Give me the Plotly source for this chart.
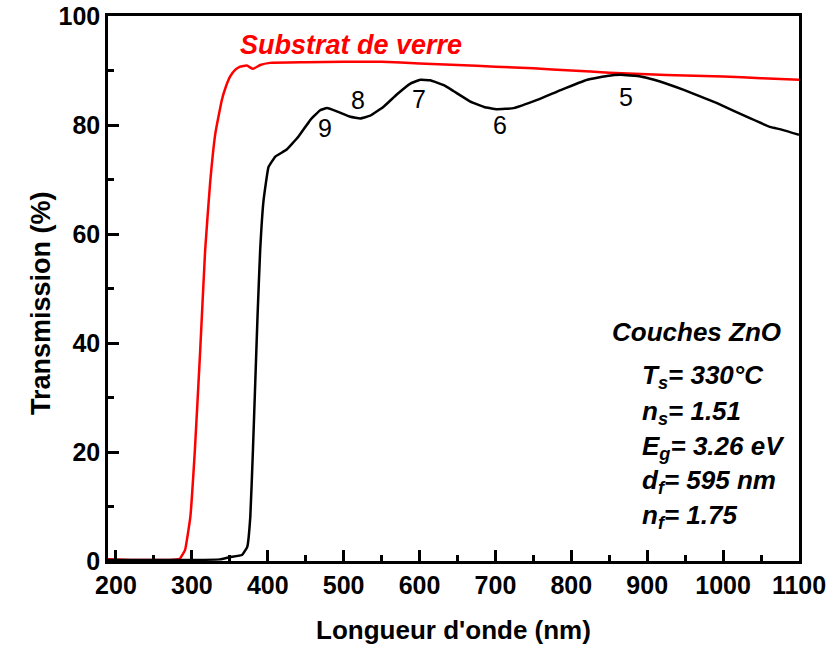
import plotly.graph_objects as go

# Glass substrate transmission (red)
red_wl = [189.5, 220, 250, 270, 284, 291, 298, 304, 311, 317.5, 324, 331, 339.5, 344, 350.5, 357, 363.5,
          372.5, 380.5, 390, 403, 450, 500, 550, 600, 650, 700, 750, 800, 850, 900, 950, 1000, 1050, 1100]
red_T = [0.3, 0.2, 0.2, 0.2, 0.4, 2.0, 8.1, 20.4, 38.7, 57.0, 69.3, 78.5, 84.6, 86.7, 88.9, 90.1, 90.7,
         90.9, 90.3, 91.0, 91.4, 91.5, 91.6, 91.6, 91.3, 91.0, 90.7, 90.4, 90.0, 89.6, 89.3, 89.1, 88.9, 88.6, 88.3]

# ZnO film transmission (black)
blk_wl = [189.5, 250, 300, 337, 350, 366, 373, 377, 380.5, 383.5, 386.5, 390, 394.5, 401, 410, 425, 440,
          456, 469, 478, 491, 509, 522, 535, 553, 570, 588, 601, 614, 632, 645, 667, 685, 702, 724, 755,
          786, 821, 847, 865, 891, 909, 949, 992, 1036, 1063, 1076, 1100]
blk_T = [0.2, 0.2, 0.2, 0.3, 0.7, 1.1, 2.6, 8.1, 20.4, 32.6, 44.8, 57.0, 66.2, 72.3, 74.2, 75.5, 77.8,
         80.9, 82.7, 83.1, 82.5, 81.5, 81.2, 81.7, 83.4, 85.6, 87.6, 88.3, 88.2, 87.3, 86.2, 84.3, 83.3,
         82.9, 83.1, 84.6, 86.4, 88.3, 89.0, 89.2, 88.9, 88.3, 86.4, 84.0, 81.2, 79.6, 79.2, 78.2]

# Interference fringe order labels
order_labels = ["9", "8", "7", "6", "5"]
order_x = [475, 519, 599, 706, 872]
order_y = [79.4, 84.5, 84.7, 80.0, 85.2]

info_title = "Couches ZnO"
info_lines = ["T<sub>s</sub>= 330°C", "n<sub>s</sub>= 1.51", "E<sub>g</sub>= 3.26 eV",
              "d<sub>f</sub>= 595 nm", "n<sub>f</sub>= 1.75"]
info_y = [33.8, 27.3, 20.9, 14.5, 8.1]

FONT = "Liberation Sans, Arial, sans-serif"

fig = go.Figure()
fig.add_trace(go.Scatter(x=red_wl, y=red_T, mode="lines",
                         line=dict(color="#ff0000", width=2.5, shape="spline", smoothing=0.3),
                         showlegend=False))
fig.add_trace(go.Scatter(x=blk_wl, y=blk_T, mode="lines",
                         line=dict(color="#000000", width=2.5, shape="spline", smoothing=0.3),
                         showlegend=False))

ann = []
ann.append(dict(x=510, y=94.7, xref="x", yref="y", text="<b><i>Substrat de verre</i></b>",
                showarrow=False, font=dict(family=FONT, size=27, color="#ff0000")))
for t, x, y in zip(order_labels, order_x, order_y):
    ann.append(dict(x=x, y=y, xref="x", yref="y", text=t, showarrow=False,
                    font=dict(family=FONT, size=25, color="#000000")))
ann.append(dict(x=965, y=42.0, xref="x", yref="y", text="<b><i>" + info_title + "</i></b>",
                showarrow=False, font=dict(family=FONT, size=26, color="#000000")))
for t, y in zip(info_lines, info_y):
    ann.append(dict(x=890, y=y, xref="x", yref="y", text="<b><i>" + t + "</i></b>",
                    xanchor="left", showarrow=False,
                    font=dict(family=FONT, size=26, color="#000000")))
ann.append(dict(x=-0.1216, y=0.4734, xref="paper", yref="paper", text="<b>Transmission (%)</b>",
                textangle=-90, showarrow=False, font=dict(family=FONT, size=27, color="#000000")))

fig.update_layout(
    width=831, height=649,
    margin=dict(l=108, r=32, t=16, b=88),
    paper_bgcolor="white", plot_bgcolor="white",
    font=dict(family=FONT, color="#000000"),
    annotations=ann,
    xaxis=dict(range=[189.5, 1100], tickmode="array", tickvals=list(range(200, 1101, 100)),
               automargin=False,
               ticks="inside", ticklen=11, tickwidth=2.5, tickcolor="#000000",
               minor=dict(ticks="inside", ticklen=6, tickwidth=2.5, tickcolor="#000000",
                          tickvals=list(range(250, 1100, 100))),
               showline=True, linewidth=2.5, linecolor="#000000", mirror=True,
               showgrid=False, zeroline=False,
               tickfont=dict(family=FONT, size=25, color="#000000", weight="bold"),
               title=dict(text="<b>Longueur d'onde (nm)</b>", standoff=24,
                          font=dict(family=FONT, size=26, color="#000000"))),
    yaxis=dict(range=[0, 100], tickmode="array", tickvals=list(range(0, 101, 20)),
               automargin=False,
               ticks="inside", ticklen=11, tickwidth=2.5, tickcolor="#000000",
               minor=dict(ticks="inside", ticklen=6, tickwidth=2.5, tickcolor="#000000",
                          tickvals=list(range(10, 100, 20))),
               showline=True, linewidth=2.5, linecolor="#000000", mirror=True,
               showgrid=False, zeroline=False,
               tickfont=dict(family=FONT, size=25, color="#000000", weight="bold")),
)

fig.write_html("out.html")
